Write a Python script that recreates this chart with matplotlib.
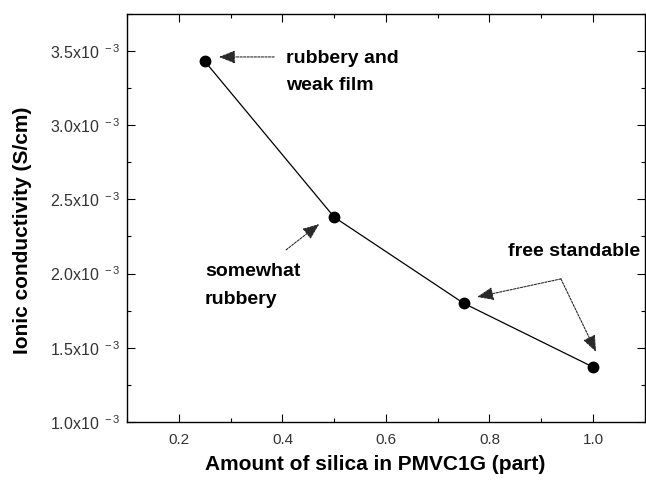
import matplotlib
matplotlib.use('Agg')
import matplotlib.pyplot as plt
from matplotlib.ticker import MultipleLocator, FuncFormatter

plt.rcParams['font.family'] = ['Liberation Sans', 'DejaVu Sans']
plt.rcParams['mathtext.default'] = 'regular'

# data
silica = [0.25, 0.50, 0.75, 1.00]
conductivity = [3.43e-3, 2.38e-3, 1.80e-3, 1.37e-3]

fig = plt.figure(figsize=(6.46, 4.8), dpi=100)
ax = fig.add_axes([0.197, 0.121, 0.801, 0.850])

ax.plot(silica, conductivity, color='black', lw=0.9, marker='o', ms=7.5,
        markerfacecolor='black', markeredgecolor='black')

ax.set_xlim(0.1, 1.1)
ax.set_ylim(1.0e-3, 3.75e-3)
ax.xaxis.set_major_locator(MultipleLocator(0.2))
ax.xaxis.set_minor_locator(MultipleLocator(0.1))
ax.yaxis.set_major_locator(MultipleLocator(0.5e-3))
ax.yaxis.set_minor_locator(MultipleLocator(0.25e-3))
ax.xaxis.set_major_formatter(FuncFormatter(lambda v, p: '%.1f' % v))
ax.yaxis.set_major_formatter(FuncFormatter(lambda v, p: '%.1fx10$^{\\ -3}$' % (v * 1e3)))

ax.tick_params(which='both', direction='in', top=True, right=True,
               labelcolor='#333333', width=0.8)
ax.tick_params(which='major', length=6)
ax.tick_params(which='minor', length=3)
ax.tick_params(axis='x', pad=8, labelsize=11)
ax.tick_params(axis='y', pad=5, labelsize=11.5)
for s in ax.spines.values():
    s.set_linewidth(1.0)

ax.set_xlabel('Amount of silica in PMVC1G (part)', fontsize=15, fontweight='bold')
ax.set_ylabel('Ionic conductivity (S/cm)', fontsize=15, fontweight='bold')
ax.xaxis.set_label_coords(0.48, -0.082)
ax.yaxis.set_label_coords(-0.185, 0.47)

# annotations
txt = dict(fontsize=14, fontweight='bold', color='black')
arr = dict(arrowstyle='-|>,head_length=1.0,head_width=0.4', color='#2a2a2a',
           lw=0.8, ls=(0, (2, 1.2)), shrinkA=0, shrinkB=0)

ax.text(0.407, 3.36e-3, 'rubbery and\nweak film', va='center', ha='left',
        linespacing=1.8, **txt)
ax.annotate('', xy=(0.277, 3.46e-3), xytext=(0.384, 3.46e-3), arrowprops=arr)

ax.text(0.25, 1.92e-3, 'somewhat\nrubbery', va='center', ha='left',
        linespacing=1.8, **txt)
ax.annotate('', xy=(0.471, 2.334e-3), xytext=(0.407, 2.16e-3), arrowprops=arr)

ax.text(0.836, 2.146e-3, 'free standable', va='center', ha='left', **txt)
ax.annotate('', xy=(0.776, 1.842e-3), xytext=(0.938, 1.964e-3), arrowprops=arr)
ax.annotate('', xy=(1.006, 1.472e-3), xytext=(0.938, 1.964e-3), arrowprops=arr)

fig.savefig('out.png', dpi=100)
